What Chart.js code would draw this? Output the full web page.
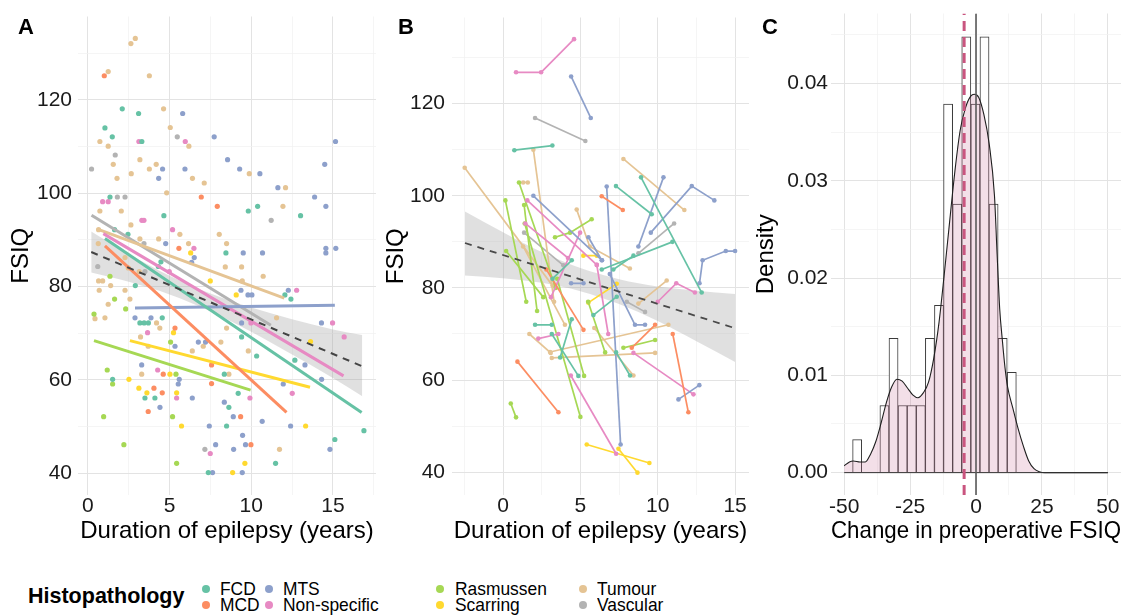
<!DOCTYPE html>
<html><head><meta charset="utf-8">
<script src="https://cdn.jsdelivr.net/npm/chart.js@4.4.1/dist/chart.umd.min.js"></script>
<style>
html,body{margin:0;padding:0;background:#fff;width:1134px;height:615px;overflow:hidden;font-family:"Liberation Sans",Arial,Helvetica,sans-serif;}
#wrap{position:relative;width:1134px;height:615px;}
canvas{position:absolute;top:0;}
.txt{position:absolute;white-space:nowrap;color:#000;}
.item{transform:scaleX(0.94);transform-origin:0 50%;}
.dot{position:absolute;width:8px;height:8px;border-radius:50%;}
</style></head><body>
<div id="wrap">
<canvas id="cA" width="380" height="560" style="left:0;width:380px;height:560px"></canvas>
<canvas id="cB" width="375" height="560" style="left:380px;width:375px;height:560px"></canvas>
<canvas id="cC" width="379" height="560" style="left:755px;width:379px;height:560px"></canvas>
<div class="txt" style="left:18px;top:16.4px;font-size:22px;line-height:22px;font-weight:bold">A</div>
<div class="txt" style="left:398px;top:16.4px;font-size:22px;line-height:22px;font-weight:bold">B</div>
<div class="txt" style="left:762px;top:16.4px;font-size:22px;line-height:22px;font-weight:bold">C</div>
<div id="legend"></div>
</div>
<script>
// ---------- categories ----------
const groups = ['FCD','MCD','MTS','Non-specific','Rasmussen','Scarring','Tumour','Vascular'];
const groupColors = ['#66C2A5','#FC8D62','#8DA0CB','#E78AC3','#A6D854','#FFD92F','#E5C494','#B3B3B3'];

// ---------- Panel A: duration vs FSIQ (points) ----------
const aFCD = [[2.1,118.1],[3.1,117.1],[1.04,114.0],[1.49,112.1],[3.3,111.1],[9.82,96.2],[10.39,97.2],[13.02,95.2],[4.65,95.2],[1.63,92.2],[2.45,91.2],[8.45,87.2],[12.06,78.2],[12.43,77.3],[2.9,80.2],[4.31,84.3],[4.47,85.3],[3.18,72.2],[3.44,72.2],[3.7,72.2],[4.55,73.3],[1.51,60.1],[3.49,56.1],[4.1,56.1],[10.33,65.1],[9.41,69.2],[12.67,64.2],[8.35,61.2],[8.63,54.1],[9.2,57.1],[8.49,50.1],[7.37,40.1],[11.49,42.1],[15.12,47.2],[16.9,49.1],[1.35,99.2]];
const aMCD = [[1.0,125.2],[6.94,99.2],[7.92,97.2],[5.57,88.2],[5.33,71.1],[4.61,61.2],[7.57,63.2],[7.57,59.2],[4.04,58.2],[4.55,57.2],[3.69,53.2],[9.35,52.1],[9.98,46.1]];
const aMTS = [[5.8,117.1],[7.73,112.1],[4.57,105.2],[4.33,103.2],[5.94,105.2],[8.55,107.2],[9.29,105.2],[10.53,104.2],[11.63,101.2],[13.88,99.2],[14.5,106.2],[15.16,111.1],[14.57,97.2],[4.76,89.2],[6.51,86.2],[9.51,87.2],[10.69,87.2],[14.57,88.2],[14.57,87.2],[15.18,88.2],[6.35,85.2],[9.37,79.2],[9.8,78.2],[10.04,78.2],[12.27,79.2],[2.88,73.3],[3.86,73.3],[5.33,67.2],[6.76,68.1],[7.2,68.1],[9.41,72.2],[14.3,72.2],[13.29,63.2],[11.96,59.1],[14.31,60.1],[3.29,63.2],[5.59,60.1],[5.53,59.1],[6.39,56.1],[4.41,54.1],[8.35,55.2],[8.9,52.1],[7.43,50.1],[10.67,51.1],[9.47,48.1],[7.82,46.1],[8.92,45.1],[9.65,46.1],[7.63,40.1],[9.45,40.1],[12.41,50.1],[14.82,45.1]];
const aNonSpecific = [[3.12,111.1],[5.96,111.1],[0.9,98.2],[1.24,98.2],[3.3,94.2],[3.43,94.2],[5.18,92.2],[6.49,88.2],[4.98,83.2],[12.78,79.2],[3.65,70.1],[9.98,72.2],[14.98,72.2],[15.69,69.2],[12.51,57.1],[4.27,62.1],[5.43,56.1],[9.92,56.1],[7.49,44.2]];
const aRasmussen = [[1.63,77.3],[0.37,74.1],[2.31,75.2],[5.06,68.1],[5.39,61.2],[1.51,59.1],[1.18,62.1],[0.96,52.1],[2.2,46.1],[5.18,52.1],[5.43,42.1],[1.35,82.2]];
const aScarring = [[6.29,87.2],[7.49,81.2],[9.08,78.2],[5.24,70.1],[13.63,68.2],[5.02,61.2],[2.51,60.1],[3.12,58.2],[3.61,57.2],[5.43,57.2],[5.73,50.1],[9.61,42.1],[8.86,40.1],[13.33,50.1]];
const aTumour = [[2.63,132.1],[2.9,133.2],[1.24,126.1],[3.76,125.2],[4.63,118.1],[0.73,111.1],[1.24,110.1],[5.04,114.1],[6.18,110.1],[1.55,106.2],[1.78,103.2],[2.65,104.2],[3.18,107.2],[3.76,105.2],[4.18,106.2],[6.4,103.2],[7.12,102.2],[9.88,104.2],[12.1,101.2],[0.73,96.2],[2.04,96.2],[4.82,100.1],[11.94,97.2],[2.63,93.2],[5.63,91.2],[8.04,91.2],[0.65,92.2],[3.18,90.2],[4.33,90.2],[6.16,89.2],[8.49,89.2],[0.63,89.2],[2.27,86.2],[8.41,84.2],[9.41,84.2],[10.73,82.2],[9.45,81.2],[0.65,81.2],[0.9,81.2],[1.39,80.2],[2.27,79.2],[2.57,77.3],[3.14,83.2],[1.04,73.3],[1.24,76.2],[4.2,72.2],[4.4,71.1],[3.22,69.2],[6.39,66.2],[7.06,67.2],[8.14,68.1],[8.49,71.1],[9.82,66.2],[11.55,73.3],[3.29,61.2],[8.63,61.2],[11.73,45.1],[0.69,79.2],[0.43,73.1],[3.69,67.2],[2.47,84.0]];
const aVascular = [[0.22,105.2],[5.47,112.1],[1.67,108.2],[1.8,99.2],[2.27,99.2],[11.22,94.2],[0.6,84.3],[3.49,83.2],[7.16,45.1],[3.43,89.2]];

// group fitted lines (start, end)
const fitFCD = [[1.04,90.3],[16.76,53.0]];
const fitMCD = [[1.04,88.7],[12.16,53.0]];
const fitMTS = [[2.88,75.4],[15.12,76.0]];
const fitNonSpecific = [[0.94,91.35],[15.65,60.85]];
const fitRasmussen = [[0.37,68.4],[9.96,57.8]];
const fitScarring = [[2.57,68.4],[13.6,58.4]];
const fitTumour = [[0.67,92.2],[12.02,77.5]];
const fitVascular = [[0.22,95.3],[11.2,71.7]];

// overall trend and confidence band, panel A
const aTrendX = [0.2,2.5,5,7.5,10,12.5,15,16.8];
const aTrendY = [87.4,84.0,80.3,76.6,72.9,69.2,65.6,62.9];
const aBandLo = [83.0,81.0,78.3,74.7,70.3,65.4,60.4,56.5];
const aBandHi = [91.8,87.0,82.3,78.5,75.5,73.0,70.8,69.6];

// ---------- Panel B: paired assessments ----------
const bFCD = [[[0.73,109.9],[3.19,110.9]],[[7.3,102.1],[9.61,96]],[[8.92,104],[12.84,79]],[[6.38,84],[10.95,90]],[[7.13,84],[8.43,87]],[[2.07,72],[3.15,72]],[[3.69,64.9],[4.44,73.2]],[[3.15,70],[4.87,60.9]],[[5.84,74.1],[7.35,78.1]],[[7.31,66],[8.21,61]],[[3.2,82],[4.44,86]]];
const bMCD = [[[6.38,99.9],[7.74,96.9]],[[0.93,64],[3.58,53]],[[2.8,84],[5.2,70.9]],[[8.32,67],[9.83,72]],[[10.97,70],[11.98,53]]];
const bMTS = [[[4.4,125.9],[5.67,116.9]],[[1.96,100],[6.4,86]],[[6.7,102],[7.6,46]],[[8.75,89],[10.37,104]],[[9.55,92],[12.2,102.1],[13.66,99]],[[5.52,91],[6.38,86]],[[12.7,81],[12.9,86],[14.4,88],[15.0,88]],[[4.4,81],[5.2,81]],[[6.9,83],[8.53,72],[9.18,72]],[[11.34,55.8],[12.69,58.9]]];
const bNonSpecific = [[[0.84,126.8],[2.46,126.8],[4.59,134]],[[1.57,99],[6.06,85]],[[1.44,94],[4.2,86.5]],[[3.1,78],[4.98,92]],[[6.06,85],[6.8,70]],[[2.28,69],[3.58,70]],[[8.43,65.9],[12.31,56.9]],[[4.38,61],[7.31,44]],[[10.0,77],[11.2,81],[12.4,79]]];
const bRasmussen = [[[1.03,102.9],[3.4,80]],[[0.15,99],[1.5,77]],[[1.36,98],[2.2,75]],[[1.4,94],[5.0,52]],[[3.36,91],[4.33,92],[5.73,94.9]],[[0.5,54.9],[0.84,51.9]],[[7.78,67],[9.83,68.7]],[[0.2,88],[2.6,78]],[[5.5,77],[6.6,66]],[[3.5,82],[5.24,60.9]]];
const bScarring = [[[5.19,87],[6.06,87]],[[5.52,76.8],[7.35,80.9]],[[5.41,46],[9.46,42]],[[7.46,45.1],[8.69,39.9]]];
const bTumour = [[[-2.48,106.1],[3.2,80.5]],[[1.96,110],[3.3,77]],[[1.3,102.9],[1.6,102.9]],[[4.76,97],[5.6,89],[8.2,84.2]],[[7.78,108],[11.72,96.9]],[[8.75,76.6],[10.58,81.6]],[[1.7,70],[3.08,65.9]],[[3.04,66.1],[10.69,72]],[[3.15,64.8],[9.83,65.9]],[[1.3,89],[4.0,72]],[[5.9,71.3],[8.43,61]]];
const bVascular = [[[2.07,116.9],[5.32,111.9]],[[8.75,87.5],[11.06,94]],[[1.36,92],[3.9,84.9]],[[8.0,77],[9.18,74.8]]];

const bTrendX = [-2.46,0,2.5,5,7.5,10,12.5,15];
const bTrendY = [89.75,87.1,84.5,81.8,79.2,76.5,73.9,71.25];
const bBandLo = [82.7,82.1,81.1,79.3,76.5,72.8,68.4,63.9];
const bBandHi = [96.6,92.1,87.8,84.3,81.9,80.3,79.4,78.7];

// ---------- Panel C: change in preoperative FSIQ ----------
const histCenters = [-45.08,-41.63,-38.18,-34.73,-31.28,-27.83,-24.38,-20.93,-17.48,-14.03,-10.58,-7.13,-3.68,-0.23,3.22,6.67,10.12,13.57];
const histDensity = [0.0034,0,0,0.0069,0.0138,0.0069,0.0069,0.0069,0.0138,0.0172,0.0379,0.0276,0.0448,0.0379,0.0448,0.0276,0.0138,0.0103];
const densX = [-50,-48,-46.5,-44,-42,-40,-38,-36,-34,-32,-30,-28,-26,-24,-22,-20,-18,-16,-14,-12,-10,-8,-6,-4,-2,-0.7,1,3,5,7,8,9,10,11,12,14,16,18,20,22,24,26,50];
const densY = [0.0007,0.0011,0.0012,0.0011,0.0011,0.0019,0.0032,0.0051,0.0072,0.0088,0.0096,0.0094,0.0087,0.0080,0.0077,0.0082,0.0093,0.0118,0.0155,0.0205,0.0258,0.0310,0.0352,0.0375,0.0387,0.0389,0.0386,0.0368,0.0338,0.0285,0.0225,0.0168,0.0136,0.0108,0.0088,0.0066,0.0045,0.0027,0.0012,0.0004,0.0001,0,0];
const meanChange = -4.5;

// ---------- helpers ----------
const FONT = '"Liberation Sans", Arial, Helvetica, sans-serif';
const pts = arr => arr.map(p => ({x: p[0], y: p[1]}));
const zip = (xs, ys) => xs.map((x, i) => ({x: x, y: ys[i]}));

function scale(o) {
  const isMajor = o.ticks.map(v => o.majors.some(m => Math.abs(m - v) < 1e-9));
  return {
    type: 'linear', position: o.pos, min: o.min, max: o.max, bounds: 'data', offset: false,
    afterBuildTicks: ax => { ax.ticks = o.ticks.map(v => ({value: v})); },
    afterFit: ax => { if (o.pos === 'left') ax.width = o.size; else ax.height = o.size; },
    ticks: { autoSkip: false, maxRotation: 0, minRotation: 0, padding: o.pad, color: '#1a1a1a',
      font: {family: FONT, size: 21, lineHeight: 1},
      callback: (v, i) => isMajor[i] ? o.fmt(o.ticks[i]) : '' },
    grid: { drawTicks: false, offset: false,
      color: c => isMajor[c.index] ? '#e3e3e3' : '#f0f0f0',
      lineWidth: c => isMajor[c.index] ? 1 : 0.7 },
    border: { display: false },
    title: { display: true, text: o.title, color: '#000', font: {family: FONT, size: 24, lineHeight: 1}, padding: o.titlePad }
  };
}
const baseOpts = (scales, padRight) => ({
  responsive: false, animation: false, devicePixelRatio: 1,
  layout: { padding: { top: 13, right: padRight, left: 0, bottom: 0 } },
  plugins: { legend: { display: false }, tooltip: { enabled: false } },
  scales: scales
});
const yFSIQ = (min, max, size, pad, tpad) => scale({pos:'left', min:min, max:max, size:size, pad:pad,
  ticks:[40,50,60,70,80,90,100,110,120,130], majors:[40,60,80,100,120], fmt: v => String(v),
  title:'FSIQ', titlePad:{top:tpad, bottom:0}});

// ---------- Panel A ----------
(function(){
  const ds = [];
  ds.push({type:'line', data: zip(aTrendX, aBandLo), borderWidth:0, pointRadius:0, fill:false, order:20, cubicInterpolationMode:'monotone'});
  ds.push({type:'line', data: zip(aTrendX, aBandHi), borderWidth:0, pointRadius:0, fill:'-1', backgroundColor:'rgba(160,160,160,0.32)', order:20, cubicInterpolationMode:'monotone'});
  const aPoints = [aFCD, aMCD, aMTS, aNonSpecific, aRasmussen, aScarring, aTumour, aVascular];
  const aFits = [fitFCD, fitMCD, fitMTS, fitNonSpecific, fitRasmussen, fitScarring, fitTumour, fitVascular];
  aPoints.forEach((p, g) => ds.push({type:'scatter', data: pts(p), pointRadius:2.6, pointBorderWidth:0,
    pointBackgroundColor: groupColors[g], backgroundColor: groupColors[g], order:10}));
  aFits.forEach((f, g) => ds.push({type:'line', data: pts(f), borderColor: groupColors[g], borderWidth:3, pointRadius:0, fill:false, order:5}));
  ds.push({type:'line', data: [{x:aTrendX[0], y:aTrendY[0]}, {x:aTrendX[aTrendX.length-1], y:aTrendY[aTrendY.length-1]}],
    borderColor:'#444', borderWidth:2, borderDash:[7,6], pointRadius:0, fill:false, order:1});
  new Chart(document.getElementById('cA'), {type:'scatter', data:{datasets:ds},
    options: baseOpts({
      x: scale({pos:'bottom', min:-0.61, max:17.64, size:65, pad:0.5, ticks:[0,2.5,5,7.5,10,12.5,15,17.5], majors:[0,5,10,15],
        fmt: v => String(v), title:'Duration of epilepsy (years)', titlePad:{top:0, bottom:16.8}}),
      y: yFSIQ(35.3, 137.9, 78, 6, 9)
    }, 4)});
})();

// ---------- Panel B ----------
(function(){
  const ds = [];
  ds.push({type:'line', data: zip(bTrendX, bBandLo), borderWidth:0, pointRadius:0, fill:false, order:20, cubicInterpolationMode:'monotone'});
  ds.push({type:'line', data: zip(bTrendX, bBandHi), borderWidth:0, pointRadius:0, fill:'-1', backgroundColor:'rgba(160,160,160,0.32)', order:20, cubicInterpolationMode:'monotone'});
  const bSegs = [bFCD, bMCD, bMTS, bNonSpecific, bRasmussen, bScarring, bTumour, bVascular];
  bSegs.forEach((segs, g) => segs.forEach(s => ds.push({type:'line', data: pts(s), borderColor: groupColors[g], borderWidth:1.7,
    pointRadius:2.3, pointBorderWidth:0, pointBackgroundColor: groupColors[g], fill:false, order:10})));
  ds.push({type:'line', data: [{x:bTrendX[0], y:bTrendY[0]}, {x:bTrendX[bTrendX.length-1], y:bTrendY[bTrendY.length-1]}],
    borderColor:'#4a4a4a', borderWidth:1.8, borderDash:[7,6], pointRadius:0, fill:false, order:1});
  new Chart(document.getElementById('cB'), {type:'scatter', data:{datasets:ds},
    options: baseOpts({
      x: scale({pos:'bottom', min:-3.3, max:15.9, size:65, pad:1.2, ticks:[-2.5,0,2.5,5,7.5,10,12.5,15], majors:[0,5,10,15],
        fmt: v => String(v), title:'Duration of epilepsy (years)', titlePad:{top:0, bottom:16.8}}),
      y: yFSIQ(35.05, 138.7, 72, 7, 4.5)
    }, 6)});
})();

// ---------- Panel C ----------
(function(){
  const yMin = -0.0023, yMax = 0.0472;
  const ds = [
    {type:'bar', data: zip(histCenters, histDensity), backgroundColor:'#ffffff', borderColor:'#3a3a3a', borderWidth:1,
      barPercentage:1, categoryPercentage:1, borderSkipped:'start', order:10},
    {type:'line', data: zip(densX, densY), borderColor:'#1f1f1f', borderWidth:1.1, pointRadius:0, fill:'origin',
      backgroundColor:'rgba(200,110,150,0.22)', cubicInterpolationMode:'monotone', order:5},
    {type:'line', data: [{x:-50, y:0}, {x:50, y:0}], borderColor:'#333', borderWidth:1, pointRadius:0, fill:false, order:4},
    {type:'line', data: [{x:0, y:yMin}, {x:0, y:yMax}], borderColor:'#5a5a5a', borderWidth:1.6, pointRadius:0, fill:false, order:2},
    {type:'line', data: [{x:meanChange, y:yMin}, {x:meanChange, y:yMax}], borderColor:'#C9557F', borderWidth:3, borderDash:[10,6],
      pointRadius:0, fill:false, order:1}
  ];
  new Chart(document.getElementById('cC'), {type:'bar', data:{datasets:ds},
    options: baseOpts({
      x: scale({pos:'bottom', min:-55, max:55, size:65, pad:1.5, ticks:[-50,-37.5,-25,-12.5,0,12.5,25,37.5,50], majors:[-50,-25,0,25,50],
        fmt: v => String(v), title:'Change in preoperative FSIQ', titlePad:{top:0, bottom:16.3}}),
      y: scale({pos:'left', min:yMin, max:yMax, size:76, pad:3, ticks:[0,0.005,0.01,0.015,0.02,0.025,0.03,0.035,0.04,0.045],
        majors:[0,0.01,0.02,0.03,0.04], fmt: v => v.toFixed(2), title:'Density', titlePad:{top:-0.5, bottom:0}})
    }, 13)});
})();

// ---------- Legend ----------
(function(){
  const lg = document.getElementById('legend');
  const add = (html) => lg.insertAdjacentHTML('beforeend', html);
  add('<div class="txt" style="left:28px;top:585.8px;font-size:21.5px;line-height:21.5px;font-weight:bold">Histopathology</div>');
  const colDot = [206,269,440,583], colText = [220,283,455,597], rowBase = [595,611];
  groups.forEach((g, i) => {
    const c = Math.floor(i / 2), r = i % 2;
    add('<div class="dot" style="left:' + (colDot[c]-4) + 'px;top:' + (rowBase[r]-6.5-4) + 'px;background:' + groupColors[i] + '"></div>');
    add('<div class="txt item" style="left:' + colText[c] + 'px;top:' + (rowBase[r]-15.5) + 'px;font-size:18.5px;line-height:18.5px">' + g + '</div>');
  });
})();
</script>
</body></html>
